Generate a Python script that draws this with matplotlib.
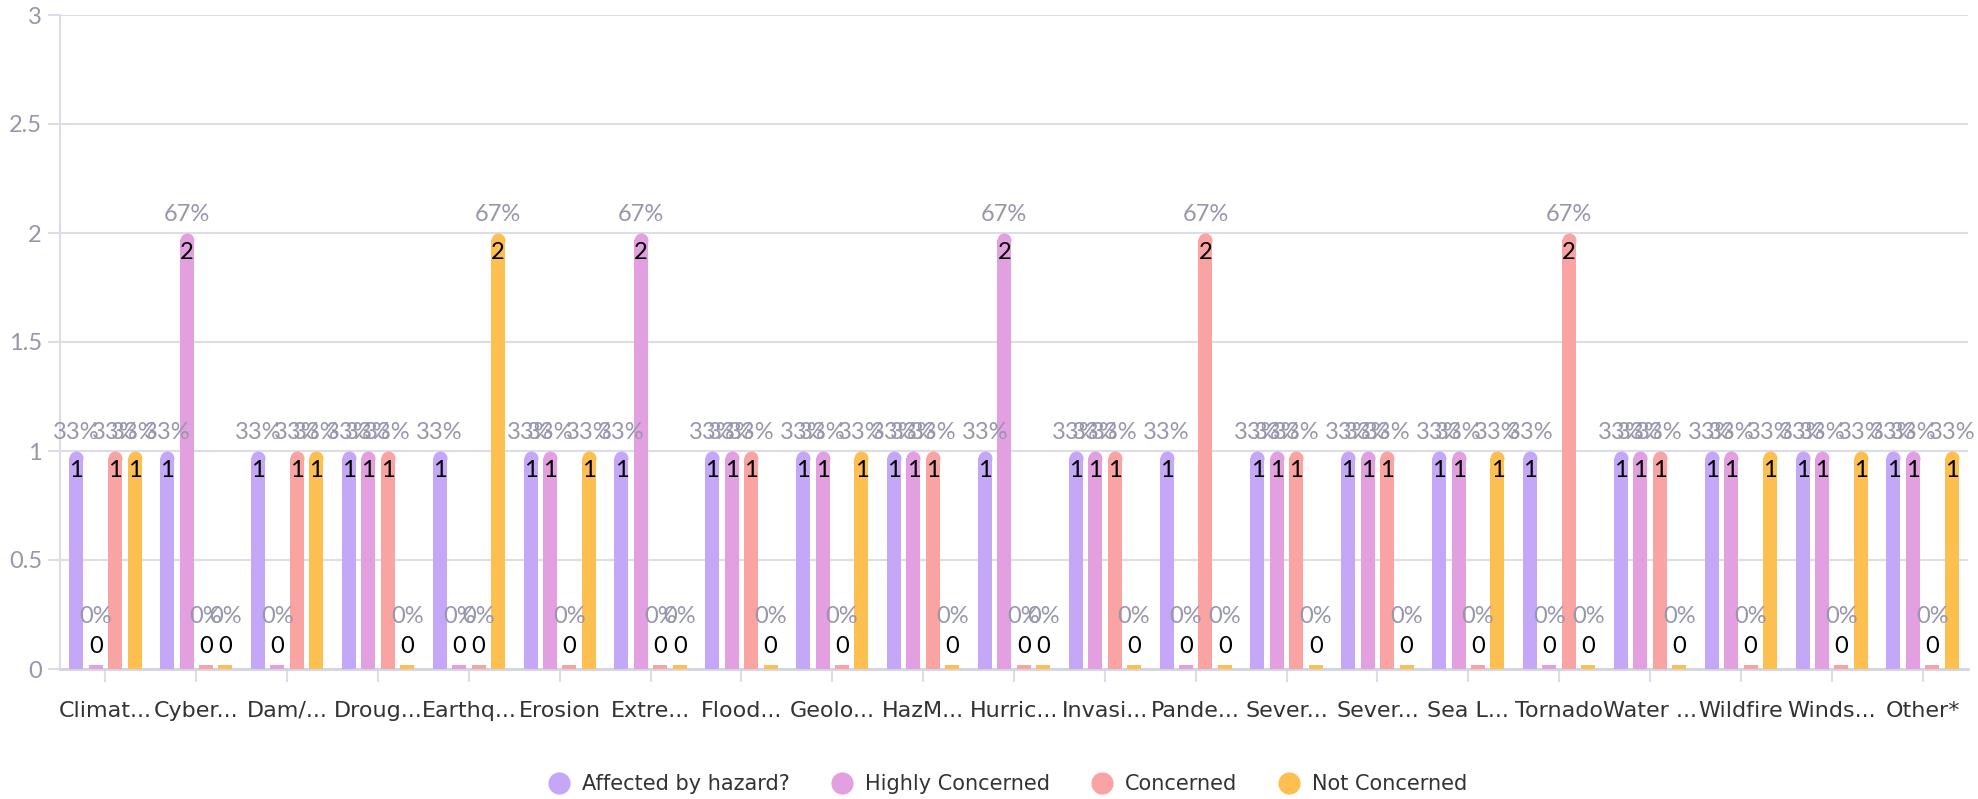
import matplotlib.pyplot as plt
import numpy as np
from matplotlib.lines import Line2D

categories = ["Climat...", "Cyber...", "Dam/...", "Droug...", "Earthq...", "Erosion",
              "Extre...", "Flood...", "Geolo...", "HazM...", "Hurric...", "Invasi...",
              "Pande...", "Sever...", "Sever...", "Sea L...", "Tornado", "Water ...",
              "Wildfire", "Winds...", "Other*"]

series_names = ["Affected by hazard?", "Highly Concerned", "Concerned", "Not Concerned"]
affected = [1, 1, 1, 1, 1, 1, 1, 1, 1, 1, 1, 1, 1, 1, 1, 1, 1, 1, 1, 1, 1]
highly   = [0, 2, 0, 1, 0, 1, 2, 1, 1, 1, 2, 1, 0, 1, 1, 1, 0, 1, 1, 1, 1]
concern  = [1, 0, 1, 1, 0, 0, 0, 1, 0, 1, 0, 1, 2, 1, 1, 0, 2, 1, 0, 0, 0]
not_conc = [1, 0, 1, 0, 2, 1, 0, 0, 1, 0, 0, 0, 0, 0, 0, 1, 0, 0, 1, 1, 1]
respondents = 3

colors = ["#c5a7f8", "#e3a0e1", "#f9a3a2", "#fdbf4f"]
grid_c = "#dddde9"
tick_c = "#9696ad"
label_font = ["DejaVu Sans"]
num_font = ["Lato", "DejaVu Sans"]

fig = plt.figure(figsize=(19.78, 7.99), dpi=100)
ax = fig.add_axes([60 / 1978, 1 - 669 / 799, 1908 / 1978, 654 / 799])

ax.set_xlim(-0.5, 20.5)
ax.set_ylim(0, 3)

x = np.arange(len(categories))
pitch = 0.214
width = 0.154
# height of the round cap (half the bar width) in data units
px_y = 3 / 654
cap = 7 * px_y
stub = 0.02

for i, (vals, col) in enumerate(zip([affected, highly, concern, not_conc], colors)):
    xs = x + (i - 1.5) * pitch
    for xi, v in zip(xs, vals):
        if v > 0:
            ax.bar(xi, v - cap, width=width, color=col, zorder=3, linewidth=0)
            ax.plot(xi, v - cap, "o", markersize=width * 91 * 0.72, color=col,
                    markeredgewidth=0, zorder=3)
            ax.annotate(str(v), (xi, v), xytext=(0, -14), textcoords="offset points",
                        ha="center", va="center", fontsize=17, color="black",
                        family=num_font, zorder=5)
            ax.annotate(f"{round(100 * v / respondents)}%", (xi, v), xytext=(0, 13),
                        textcoords="offset points", ha="center", va="center",
                        fontsize=17, color=tick_c, family=num_font, zorder=5)
        else:
            ax.bar(xi, stub, width=width, color=col, zorder=3, linewidth=0)
            ax.annotate("0", (xi, stub), xytext=(0, 13), textcoords="offset points",
                        ha="center", va="center", fontsize=17, color="black",
                        family=num_font, zorder=5)
            ax.annotate("0%", (xi, stub), xytext=(0, 35), textcoords="offset points",
                        ha="center", va="center", fontsize=17, color=tick_c,
                        family=num_font, zorder=5)

ax.set_yticks([0, 0.5, 1, 1.5, 2, 2.5, 3])
ax.set_yticklabels(["0", "0.5", "1", "1.5", "2", "2.5", "3"], family=num_font,
                   fontsize=17, color=tick_c)
ax.set_xticks(x)
ax.set_xticklabels(categories, family=label_font, fontsize=16, color="#333333")
ax.tick_params(axis="y", length=9, color=grid_c, width=1.5, pad=4)
ax.tick_params(axis="x", length=9, color=grid_c, width=1.5, pad=14)
ax.grid(axis="y", color=grid_c, linewidth=1.5, zorder=0)
for side in ["top", "right"]:
    ax.spines[side].set_visible(False)
ax.spines["left"].set_color(grid_c)
ax.spines["left"].set_linewidth(1.5)
ax.spines["bottom"].set_color("#d4d4e2")
ax.spines["bottom"].set_linewidth(2)

handles = [Line2D([], [], marker="o", linestyle="", markersize=16, color=c,
                  markeredgewidth=0) for c in colors]
fig.legend(handles, series_names, loc="center", bbox_to_anchor=(0.507, 1 - 784 / 799),
           ncol=4, frameon=False, prop={"family": label_font, "size": 15},
           handletextpad=0.1, columnspacing=1.5, labelcolor="#333333")

fig.savefig("out.png", dpi=100)
